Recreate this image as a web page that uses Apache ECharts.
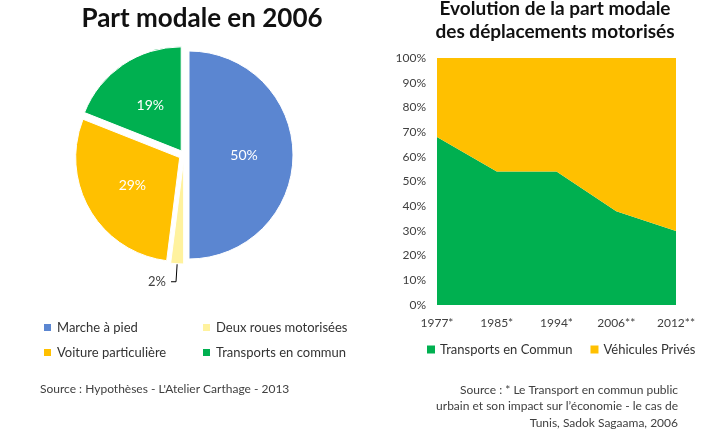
<!DOCTYPE html>
<html><head><meta charset="utf-8">
<script src="https://cdn.jsdelivr.net/npm/echarts@6/dist/echarts.min.js"></script>
<style>html,body{margin:0;padding:0;background:#fff}#c{width:710px;height:430px}</style>
</head><body><div id="c"></div>
<script>
const pieNames = ['Marche à pied', 'Deux roues motorisées', 'Voiture particulière', 'Transports en commun'];
const pieValues = [50, 2, 29, 19];
const pieColors = ['#5B86D1', '#FFF29E', '#FFC000', '#00B050'];

const years = ['1977*', '1985*', '1994*', '2006**', '2012**'];
const transportsCommun = [68, 54, 54, 38, 30];
const vehiculesPrives = [32, 46, 46, 62, 70];
const yTicks = [0, 10, 20, 30, 40, 50, 60, 70, 80, 90, 100];

const FONT = 'Lato';
const chart = echarts.init(document.getElementById('c'));
const pieData = pieNames.map((n, i) => {
  const d = { name: n, value: pieValues[i], selected: true, itemStyle: { color: pieColors[i] } };
  if (pieValues[i] < 5) {
    d.label = { position: 'outside', color: '#404040', fontSize: 13 };
    d.labelLine = { show: true, length: 18, length2: 5, lineStyle: { color: '#000', width: 1 } };
  }
  return d;
});

const srcRight = ["Source : * Le Transport en commun public", "urbain et son impact sur l’économie - le cas de", "Tunis, Sadok Sagaama, 2006"];

chart.setOption({
  animation: false,
  textStyle: { fontFamily: FONT },
  title: [
    { text: 'Part modale en 2006', left: 197, textAlign: 'center', top: 1,
      textStyle: { fontFamily: FONT, fontWeight: 'bold', fontSize: 26, color: '#111' } },
    { text: 'Evolution de la part modale\ndes déplacements motorisés', left: 550, textAlign: 'center', top: -8,
      textStyle: { fontFamily: FONT, fontWeight: 'bold', fontSize: 19, lineHeight: 23, color: '#111' } }
  ],
  graphic: [
    { type: 'text', left: 40, top: 383,
      style: { text: "Source : Hypothèses - L'Atelier Carthage - 2013", font: '12px Lato', fill: '#404040' } }
  ].concat(srcRight.map((t, i) => ({
    type: 'text', x: 678, y: 390 + i * 16.5,
    style: { text: t, font: '12px Lato', fill: '#404040', textAlign: 'right', textVerticalAlign: 'middle' }
  }))),
  legend: [
    { data: ['Marche à pied', 'Voiture particulière'], orient: 'vertical', left: 37, top: 316, itemGap: 12,
      icon: 'rect', itemWidth: 9, itemHeight: 9, textStyle: { fontFamily: FONT, fontSize: 13, color: '#333' } },
    { data: ['Deux roues motorisées', 'Transports en commun'], orient: 'vertical', left: 196, top: 316, itemGap: 12,
      icon: 'rect', itemWidth: 9, itemHeight: 9, textStyle: { fontFamily: FONT, fontSize: 13, color: '#333' } },
    { data: ['Transports en Commun', 'Véhicules Privés'], left: 422, top: 338, itemGap: 18,
      icon: 'rect', itemWidth: 8, itemHeight: 8, textStyle: { fontFamily: FONT, fontSize: 13, color: '#333' } }
  ],
  grid: { left: 437, right: 34, top: 58, bottom: 125 },
  xAxis: {
    type: 'category', data: years, boundaryGap: false,
    axisLine: { show: false }, axisTick: { show: false },
    axisLabel: { fontFamily: FONT, fontSize: 12, color: '#404040', margin: 12, interval: 0 }
  },
  yAxis: {
    type: 'value', min: yTicks[0], max: yTicks[yTicks.length - 1], interval: 10,
    splitLine: { show: false }, axisLine: { show: false }, axisTick: { show: false },
    axisLabel: { fontFamily: FONT, fontSize: 12, color: '#404040', formatter: '{value}%', margin: 11 }
  },
  series: [
    { type: 'pie', center: [184, 155], radius: 104, selectedMode: 'multiple', selectedOffset: 5,
      startAngle: 90, clockwise: true, legendHoverLink: false,
      itemStyle: { borderColor: '#fff', borderWidth: 1 },
      label: { show: true, position: 'inner', formatter: '{c}%', color: '#fff', fontSize: 14, fontFamily: FONT },
      labelLine: { show: false },
      emphasis: { disabled: true },
      data: pieData },
    { name: 'Transports en Commun', type: 'line', stack: 'a', data: transportsCommun, symbol: 'none',
      lineStyle: { width: 0 }, areaStyle: { color: '#00B050', opacity: 1 }, itemStyle: { color: '#00B050' } },
    { name: 'Véhicules Privés', type: 'line', stack: 'a', data: vehiculesPrives, symbol: 'none',
      lineStyle: { width: 0 }, areaStyle: { color: '#FFC000', opacity: 1 }, itemStyle: { color: '#FFC000' } }
  ]
});
</script></body></html>
